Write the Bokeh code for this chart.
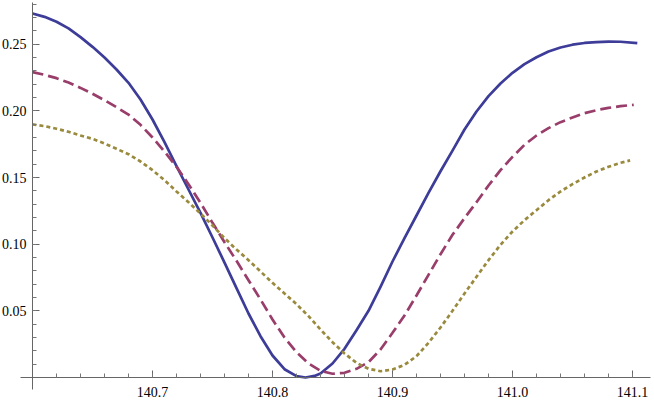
from bokeh.plotting import figure
from bokeh.models import Range1d, FixedTicker, NumeralTickFormatter
from bokeh.embed import file_html
from bokeh.resources import INLINE

# Series
blue_x = [140.60, 140.61, 140.62, 140.63, 140.64, 140.65, 140.66, 140.67, 140.68, 140.69,
          140.70, 140.71, 140.72, 140.73, 140.74, 140.75, 140.76, 140.77, 140.78, 140.79,
          140.80, 140.81, 140.82, 140.8275, 140.835, 140.84, 140.85, 140.86, 140.87, 140.88,
          140.89, 140.90, 140.91, 140.92, 140.93, 140.94, 140.95, 140.96, 140.97, 140.98,
          140.99, 141.00, 141.01, 141.02, 141.03, 141.04, 141.05, 141.06, 141.07, 141.08,
          141.09, 141.104]
blue_y = [0.2730, 0.2705, 0.2668, 0.2618, 0.2553, 0.2480, 0.2400, 0.2310, 0.2210, 0.2085,
          0.1935, 0.1765, 0.1585, 0.1410, 0.1235, 0.1050, 0.0862, 0.0670, 0.0480, 0.0310,
          0.0165, 0.0062, 0.0010, 0.0000, 0.0012, 0.0030, 0.0105, 0.0215, 0.0355, 0.0500,
          0.0680, 0.0870, 0.1045, 0.1215, 0.1385, 0.1547, 0.1702, 0.1860, 0.1995, 0.2110,
          0.2205, 0.2285, 0.2350, 0.2402, 0.2445, 0.2475, 0.2496, 0.2509, 0.2516, 0.2519,
          0.2518, 0.2508]

purple_x = [140.60, 140.61, 140.62, 140.63, 140.64, 140.65, 140.66, 140.67, 140.68, 140.69,
            140.70, 140.71, 140.72, 140.73, 140.74, 140.75, 140.76, 140.77, 140.78, 140.79,
            140.80, 140.81, 140.82, 140.83, 140.84, 140.85, 140.86, 140.87, 140.88, 140.89,
            140.90, 140.91, 140.92, 140.93, 140.94, 140.95, 140.96, 140.97, 140.98, 140.99,
            141.00, 141.01, 141.02, 141.03, 141.04, 141.05, 141.06, 141.07, 141.08, 141.09,
            141.101]
purple_y = [0.2290, 0.2270, 0.2245, 0.2212, 0.2172, 0.2128, 0.2080, 0.2027, 0.1972, 0.1895,
            0.1800, 0.1695, 0.1580, 0.1450, 0.1310, 0.1160, 0.1015, 0.0875, 0.0730, 0.0585,
            0.0435, 0.0300, 0.0190, 0.0105, 0.0050, 0.0028, 0.0035, 0.0065, 0.0115, 0.0210,
            0.0335, 0.0465, 0.0615, 0.0770, 0.0925, 0.1070, 0.1195, 0.1315, 0.1440, 0.1555,
            0.1655, 0.1745, 0.1815, 0.1870, 0.1915, 0.1950, 0.1982, 0.2005, 0.2022, 0.2035,
            0.2045]

olive_x = [140.60, 140.61, 140.62, 140.63, 140.64, 140.65, 140.66, 140.67, 140.68, 140.69,
           140.70, 140.71, 140.72, 140.73, 140.74, 140.75, 140.76, 140.77, 140.78, 140.79,
           140.80, 140.81, 140.82, 140.83, 140.84, 140.85, 140.86, 140.87, 140.88, 140.89,
           140.90, 140.91, 140.92, 140.93, 140.94, 140.95, 140.96, 140.97, 140.98, 140.99,
           141.00, 141.01, 141.02, 141.03, 141.04, 141.05, 141.06, 141.07, 141.08, 141.09,
           141.098]
olive_y = [0.1898, 0.1885, 0.1866, 0.1843, 0.1815, 0.1790, 0.1755, 0.1715, 0.1675, 0.1620,
           0.1555, 0.1480, 0.1395, 0.1315, 0.1230, 0.1140, 0.1045, 0.0960, 0.0880, 0.0795,
           0.0710, 0.0630, 0.0550, 0.0460, 0.0360, 0.0265, 0.0180, 0.0110, 0.0065, 0.0047,
           0.0060, 0.0095, 0.0160, 0.0260, 0.0375, 0.0500, 0.0630, 0.0755, 0.0880, 0.0995,
           0.1095, 0.1180, 0.1255, 0.1330, 0.1395, 0.1450, 0.1500, 0.1545, 0.1580, 0.1610,
           0.1628]

x_major = [140.7, 140.8, 140.9, 141.0, 141.1]
x_minor = [round(140.6 + 0.02 * i, 2) for i in range(1, 26)]
y_major = [0.05, 0.10, 0.15, 0.20, 0.25]
y_minor = [round(0.01 * i, 2) for i in range(1, 29)]

p = figure(width=654, height=400, output_backend="svg", toolbar_location=None,
           x_range=Range1d(140.57333, 141.11833), y_range=Range1d(-0.01725, 0.28275),
           min_border=0)
p.outline_line_color = None
p.grid.visible = False
p.background_fill_color = "white"

p.line(blue_x, blue_y, line_color="#3d3d99", line_width=2.7, line_join="round")
p.line(purple_x, purple_y, line_color="#993d6b", line_width=2.7, line_dash="11 5")
p.line(olive_x, olive_y, line_color="#998a3d", line_width=2.7, line_dash="4 3")

for ax in (p.xaxis[0], p.yaxis[0]):
    ax.axis_line_color = "#666666"
    ax.axis_line_width = 1
    ax.major_tick_line_color = "#666666"
    ax.minor_tick_line_color = "#777777"
    ax.major_tick_in = 7
    ax.major_tick_out = 0
    ax.minor_tick_in = 4
    ax.minor_tick_out = 0
    ax.major_label_text_font = "'Liberation Serif', 'Times New Roman', serif"
    ax.major_label_text_font_size = "14px"
    ax.major_label_text_color = "black"

p.xaxis.major_label_standoff = 9
p.yaxis.major_label_standoff = 6
p.xaxis.fixed_location = 0
p.yaxis.fixed_location = 140.6
p.xaxis.bounds = (140.59, 141.115)
p.yaxis.bounds = (-0.009, 0.281)
p.xaxis.ticker = FixedTicker(ticks=x_major, minor_ticks=x_minor)
p.yaxis.ticker = FixedTicker(ticks=y_major, minor_ticks=y_minor)
p.xaxis.formatter = NumeralTickFormatter(format="0.0")
p.yaxis.formatter = NumeralTickFormatter(format="0.00")

open("out.html", "w").write(file_html(p, INLINE))
